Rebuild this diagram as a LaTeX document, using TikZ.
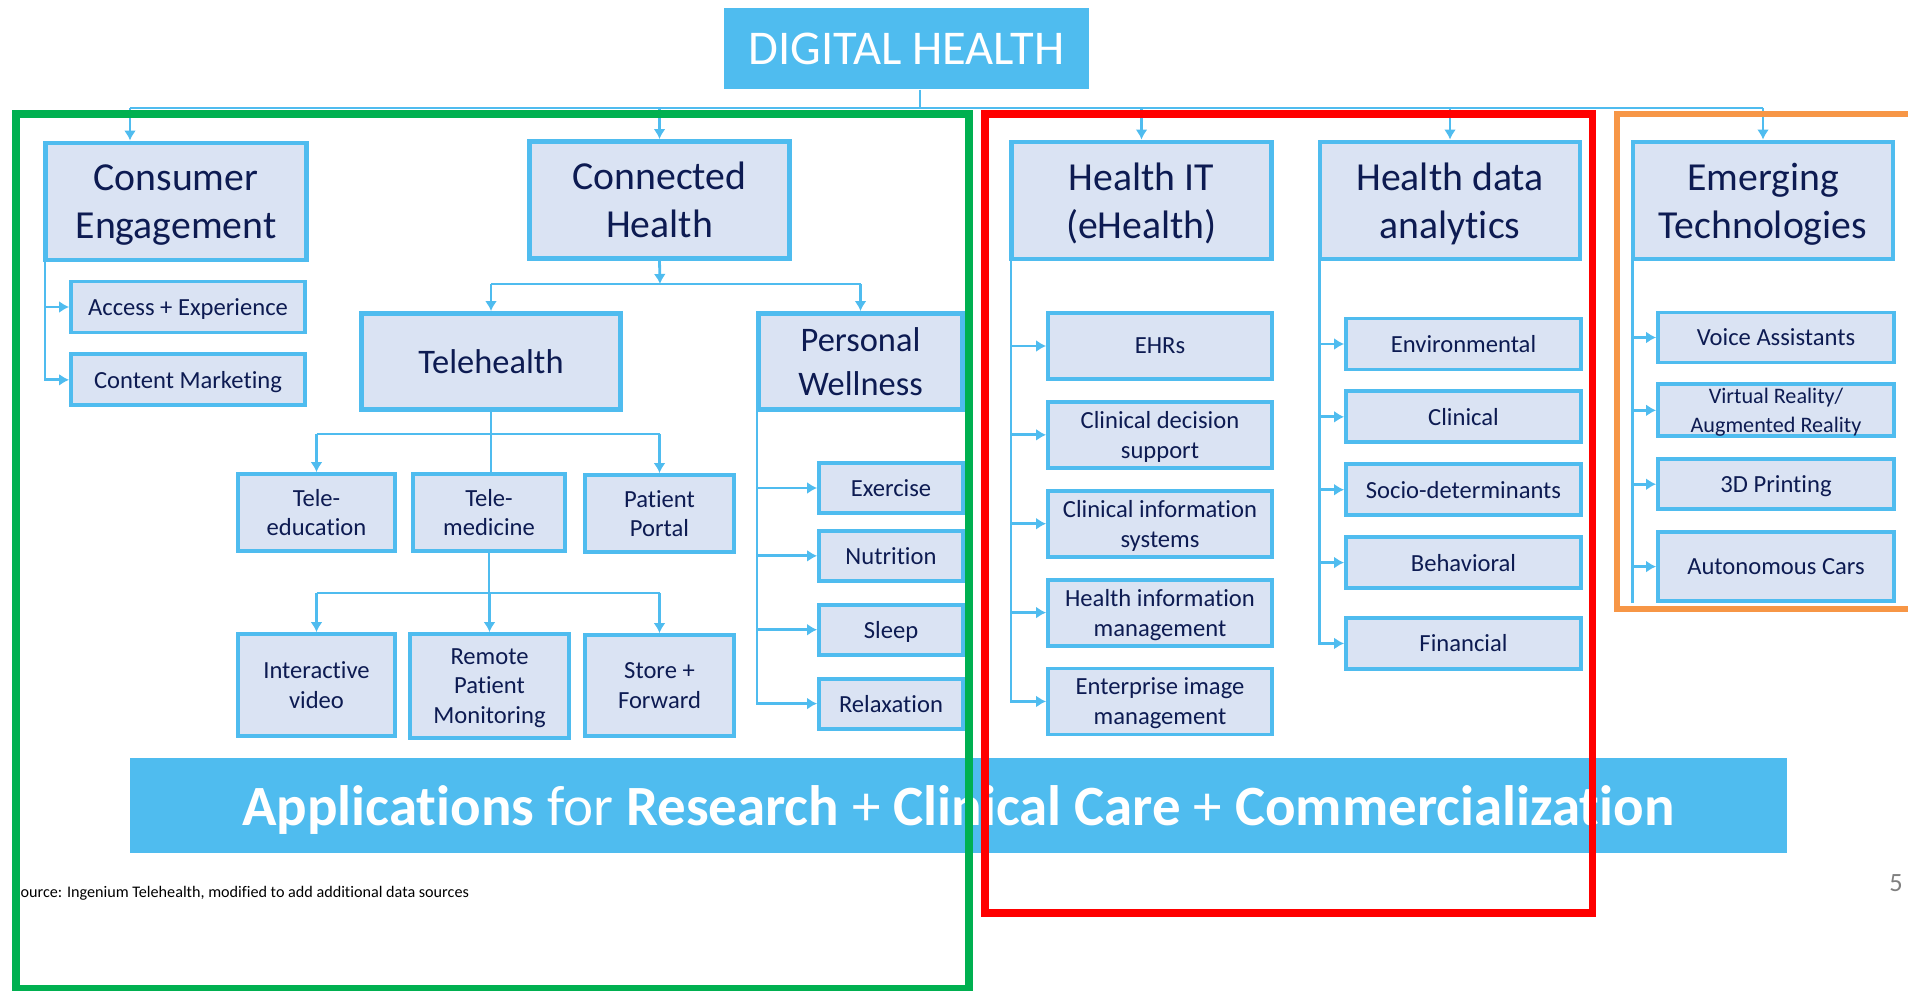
\documentclass[tikz,border=0pt]{standalone}
\usepackage{fontspec}
\setmainfont{Carlito}[Ligatures=NoCommon]
\usetikzlibrary{positioning, arrows.meta}
\definecolor{skyblue}{HTML}{4FBCEF}
\definecolor{boxfill}{HTML}{DAE3F3}
\definecolor{navy}{HTML}{0D1B52}
\definecolor{officegreen}{HTML}{00B050}
\definecolor{officeorange}{HTML}{F79646}

\begin{document}
\begin{tikzpicture}[
        node distance=0.19cm,
        head/.style={rectangle, draw=skyblue, line width=1.4pt, fill=boxfill, text=navy, align=center, text depth=0pt, minimum width=2.60cm, minimum height=1.17cm, font=\fontsize{11.3}{13.7}\selectfont},
        item/.style={rectangle, draw=skyblue, line width=1.1pt, fill=boxfill, text=navy, align=center, text depth=0pt, inner sep=1pt, font=\fontsize{7}{8.5}\selectfont},
        celist/.style={item, minimum width=2.34cm, minimum height=0.51cm},
        pwlist/.style={item, minimum width=1.44cm, minimum height=0.50cm},
        itlist/.style={item, minimum width=2.24cm, minimum height=0.66cm},
        datalist/.style={item, minimum width=2.35cm, minimum height=0.51cm},
        techlist/.style={item, minimum width=2.36cm, minimum height=0.50cm},
        link/.style={draw=skyblue, line width=0.8pt},
        arrow/.style={link, -{Latex[length=1mm, width=1.2mm]}},
        frame/.style={line width=2pt}
    ]
    \useasboundingbox (0,0) rectangle (19.08,-9.91);

    \node[fill=skyblue, text=white, minimum width=3.65cm, minimum height=0.81cm, font=\fontsize{13.8}{16}\selectfont] (dh) at (9.065,-0.485) {DIGITAL HEALTH};

    \node[head, minimum width=2.61cm] (consumer) at (1.76,-2.015) {Consumer\\Engagement};
    \node[head] (connected) at (6.595,-2.00) {Connected\\Health};
    \node[head] (healthit) at (11.415,-2.005) {Health IT\\(eHealth)};
    \node[head] (analytics) at (14.50,-2.005) {Health data\\analytics};
    \node[head] (emerging) at (17.63,-2.005) {Emerging\\Technologies};

    % consumer engagement
    \node[celist] (access) at (1.88,-3.07) {Access + Experience};
    \node[celist, below=0.18cm of access] (content) {Content Marketing};

    % connected health
    \node[head, minimum width=2.59cm, minimum height=0.96cm, font=\fontsize{9.8}{12.5}\selectfont] (telehealth) at (4.91,-3.615) {Telehealth};
    \node[head, minimum width=2.04cm, minimum height=0.96cm, font=\fontsize{9.8}{12.5}\selectfont] (wellness) at (8.605,-3.615) {Personal\\Wellness};

    \node[item, minimum width=1.57cm, minimum height=0.77cm] (teleedu) at (3.165,-5.125) {Tele-\\education};
    \node[item, minimum width=1.52cm, minimum height=0.77cm] (telemed) at (4.89,-5.125) {Tele-\\medicine};
    \node[item, minimum width=1.49cm, minimum height=0.77cm] (portal) at (6.595,-5.135) {Patient\\Portal};
    \node[item, minimum width=1.57cm, minimum height=1.02cm] (video) at (3.165,-6.85) {Interactive\\video};
    \node[item, minimum width=1.59cm, minimum height=1.04cm] (remote) at (4.895,-6.86) {Remote\\Patient\\Monitoring};
    \node[item, minimum width=1.49cm, minimum height=1.01cm] (store) at (6.595,-6.855) {Store +\\Forward};

    \node[pwlist] (exercise) at (8.91,-4.88) {Exercise};
    \node[pwlist, below=0.14cm of exercise] (nutrition) {Nutrition};
    \node[pwlist, below=0.20cm of nutrition] (sleep) {Sleep};
    \node[pwlist, below=0.20cm of sleep] (relaxation) {Relaxation};

    % health it
    \node[itlist] (ehrs) at (11.60,-3.46) {EHRs};
    \node[itlist, below=of ehrs] (decision) {Clinical decision\\support};
    \node[itlist, below=of decision] (clinsys) {Clinical information\\systems};
    \node[itlist, below=of clinsys] (infomgmt) {Health information\\management};
    \node[itlist, below=of infomgmt] (imagemgmt) {Enterprise image\\management};

    % health data analytics
    \node[datalist] (environmental) at (14.635,-3.44) {Environmental};
    \node[datalist, below=0.18cm of environmental] (clinical) {Clinical};
    \node[datalist, below=0.18cm of clinical] (socio) {Socio-determinants};
    \node[datalist, below=0.18cm of socio] (behavioral) {Behavioral};
    \node[datalist, below=0.26cm of behavioral] (financial) {Financial};

    % emerging technologies
    \node[techlist] (voice) at (17.76,-3.375) {Voice Assistants};
    \node[techlist, minimum height=0.52cm, below=0.18cm of voice, font=\fontsize{6.3}{8}\selectfont] (vrar) {Virtual Reality/\\Augmented Reality};
    \node[techlist, below=0.19cm of vrar] (printing) {3D Printing};
    \node[techlist, minimum height=0.69cm, below=0.19cm of printing] (autonomous) {Autonomous Cars};

    \node[fill=skyblue, text=white, text depth=0pt, minimum width=16.57cm, minimum height=0.95cm, font=\fontsize{16.2}{18}\selectfont] (apps) at (9.585,-8.055) {\textbf{Applications} for \textbf{Research} + \textbf{Clinical Care} + \textbf{Commercialization}};

    \node[anchor=west, inner sep=0, font=\fontsize{4.6}{5.5}\selectfont] (source) at (0.125,-8.93) {Source: Ingenium Telehealth, modified to add additional data sources};
    \node[text=gray, inner sep=0, font=\fontsize{7.5}{9}\selectfont] (page) at (18.96,-8.83) {5};

    % top bus
    \coordinate (bus) at (9.20,-1.08);
    \coordinate (cein) at ([xshift=-0.46cm]consumer.north);
    \draw[link] (bus |- dh.south) -- (bus);
    \draw[link] (bus -| cein) -- (bus -| emerging.north);
    \draw[arrow] (bus -| cein) -- (cein);
    \foreach \n in {connected, healthit, analytics, emerging}
        \draw[arrow] (bus -| \n.north) -- (\n.north);

    % rails with side arrows
    \coordinate (cerail) at ([xshift=0.02cm]consumer.south west);
    \foreach \n in {access, content}
        \draw[arrow] (cerail) |- (\n.west);
    \coordinate (pwrail) at ([xshift=0.01cm]wellness.south west);
    \foreach \n in {exercise, nutrition, sleep, relaxation}
        \draw[arrow] (pwrail) |- (\n.west);
    \coordinate (itrail) at ([xshift=0.02cm]healthit.south west);
    \foreach \n in {ehrs, decision, clinsys, infomgmt, imagemgmt}
        \draw[arrow] (itrail) |- (\n.west);
    \coordinate (darail) at ([xshift=0.02cm]analytics.south west);
    \foreach \n in {environmental, clinical, socio, behavioral, financial}
        \draw[arrow] (darail) |- (\n.west);
    \coordinate (etrail) at ([xshift=0.02cm]emerging.south west);
    \draw[link] (etrail) -- (etrail |- autonomous.south);
    \foreach \n in {voice, vrar, printing, autonomous}
        \draw[arrow] (etrail) |- (\n.west);

    % connected health tree
    \coordinate (chbar) at (6.60,-2.84);
    \draw[arrow] (connected.south) -- (chbar);
    \draw[link] (chbar -| telehealth.north) -- (chbar -| wellness.north);
    \draw[arrow] (chbar -| telehealth.north) -- (telehealth.north);
    \draw[arrow] (chbar -| wellness.north) -- (wellness.north);

    \coordinate (thbar) at (4.91,-4.34);
    \draw[link] (telehealth.south) -- (telehealth.south |- telemed.north);
    \draw[link] (thbar -| teleedu.north) -- (thbar -| portal.north);
    \draw[arrow] (thbar -| teleedu.north) -- (teleedu.north);
    \draw[arrow] (thbar -| portal.north) -- (portal.north);

    \coordinate (tmbar) at (4.93,-5.93);
    \draw[link] (telemed.south) -- (telemed.south |- tmbar);
    \draw[link] (tmbar -| video.north) -- (tmbar -| store.north);
    \foreach \n in {video, remote, store}
        \draw[arrow] (tmbar -| \n.north) -- (\n.north);

    % groupings
    \draw[frame, draw=officegreen] (0.16,-1.14) rectangle (9.69,-9.885);
    \draw[frame, draw=red] (9.85,-1.14) rectangle (15.92,-9.13);
    \draw[frame, line width=1.5pt, draw=officeorange] (16.17,-1.14) rectangle (19.30,-6.09);

\end{tikzpicture}
\end{document}
